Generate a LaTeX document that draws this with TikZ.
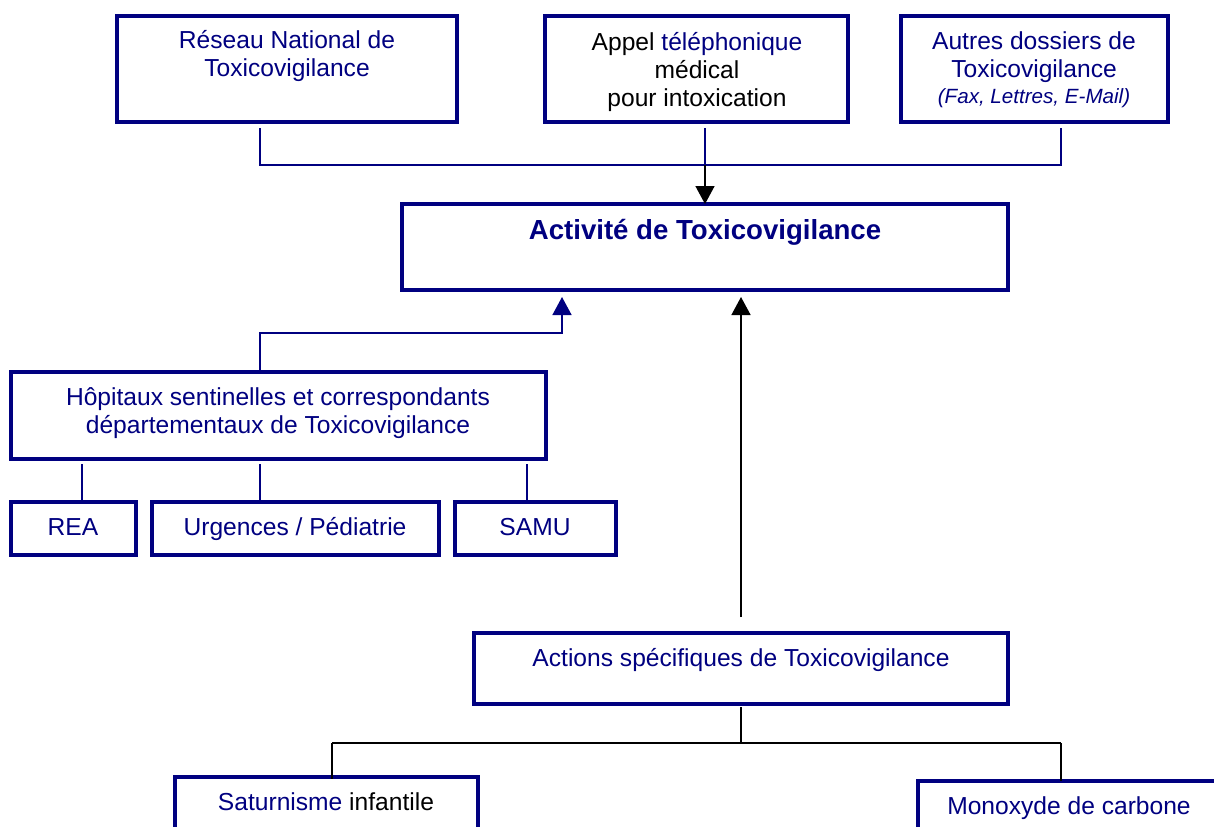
\documentclass[tikz,border=0pt]{standalone}
\usepackage{fontspec}
\setmainfont{Liberation Sans}
\usetikzlibrary{arrows.meta,fit}
\definecolor{navy}{RGB}{0,0,128}
\begin{document}
\begin{tikzpicture}[x=0.5pt,y=-0.5pt,
  box/.style={draw=navy, line width=1.7pt, inner sep=0pt, outer sep=0pt, rectangle},
  txt/.style={text=navy, font=\fontsize{12.3}{14}\selectfont, align=center, inner sep=0pt},
  nline/.style={draw=navy, line width=0.75pt},
  bline/.style={draw=black, line width=0.75pt},
  tip/.style={-{Triangle[width=9.5pt,length=9pt]}}
]
\useasboundingbox (0,0) rectangle (1214,826);
\clip (0,0) rectangle (1214,826);

% boxes
\node[box, fit={(117,16) (457,122)}] (reseau) {};
\node[box, fit={(545,16) (848,122)}] (appel) {};
\node[box, fit={(901,16) (1168,122)}] (autres) {};
\node[box, fit={(402,204) (1008,290)}] (activite) {};
\node[box, fit={(11,372) (546,459)}] (hopitaux) {};
\node[box, fit={(11,502) (136,555)}] (rea) {};
\node[box, fit={(152,502) (439,555)}] (urg) {};
\node[box, fit={(455,502) (616,555)}] (samu) {};
\node[box, fit={(474,633) (1008,704)}] (actions) {};
\node[box, fit={(175,777) (478,880)}] (satur) {};
\node[box, fit={(918,781) (1220,880)}] (monox) {};

% texts
\node[txt] (reseauT) at (287,56) {Réseau National de\\Toxicovigilance};
\node[txt, text=black] (appelT) at (697,72) {Appel \textcolor{navy}{téléphonique}\\médical\\pour intoxication};
\node[txt] (autresT) at (1034,70) {Autres dossiers de\\Toxicovigilance\\[-1.2pt]{\fontsize{10.3}{12.8}\selectfont\itshape (Fax, Lettres, E-Mail)}};
\node[txt, font=\fontsize{13.8}{16}\selectfont\bfseries] (activiteT) at (705,232) {Activité de Toxicovigilance};
\node[txt] (hopitauxT) at (278,413) {Hôpitaux sentinelles et correspondants\\départementaux de Toxicovigilance};
\node[txt] (reaT) at (73,527) {REA};
\node[txt] (urgT) at (295,529) {Urgences / Pédiatrie};
\node[txt] (samuT) at (535,527) {SAMU};
\node[txt] (actionsT) at (741,660) {Actions spécifiques de Toxicovigilance};
\node[txt] (saturT) at (326,802) {Saturnisme \textcolor{black}{infantile}};
\node[txt] (monoxT) at (1069,808) {Monoxyde de carbone};

% top connectors
\coordinate (jl) at (260,165);
\coordinate (jm) at (705,165);
\coordinate (jr) at (1061,165);
\draw[nline, shorten <=3pt, shorten >=3pt] (reseau.south -| jl) -- (jl) -- (jr) -- (autres.south -| jr);
\draw[nline, shorten <=3pt] (appel.south -| jm) -- (jm);
\draw[bline, tip] (jm) -- (activite.north -| jm);

% hospital arrow
\coordinate (h1) at (260,333);
\coordinate (h2) at (562,333);
\draw[nline, tip, shorten >=3.5pt] (hopitaux.north -| h1) -- (h1) -- (h2) -- (activite.south -| h2);

% hospital children
\coordinate (c1) at (82,500);
\coordinate (c2) at (260,500);
\coordinate (c3) at (527,500);
\draw[nline, shorten <=2.5pt] (hopitaux.south -| c1) -- (rea.north -| c1);
\draw[nline, shorten <=2.5pt] (hopitaux.south -| c2) -- (urg.north -| c2);
\draw[nline, shorten <=2.5pt] (hopitaux.south -| c3) -- (samu.north -| c3);

% actions arrow
\draw[bline, tip, shorten <=8pt, shorten >=3.5pt] (actions.north) -- (activite.south -| actions.north);

% bottom tree
\coordinate (b0) at (741,743);
\coordinate (bl) at (332,743);
\coordinate (br) at (1061,743);
\draw[bline, shorten <=1.5pt] (actions.south) -- (b0);
\draw[bline] (bl) -- (br);
\draw[bline] (bl) -- ([yshift=-1pt]satur.north -| bl);
\draw[bline] (br) -- (monox.north -| br);
\end{tikzpicture}
\end{document}
